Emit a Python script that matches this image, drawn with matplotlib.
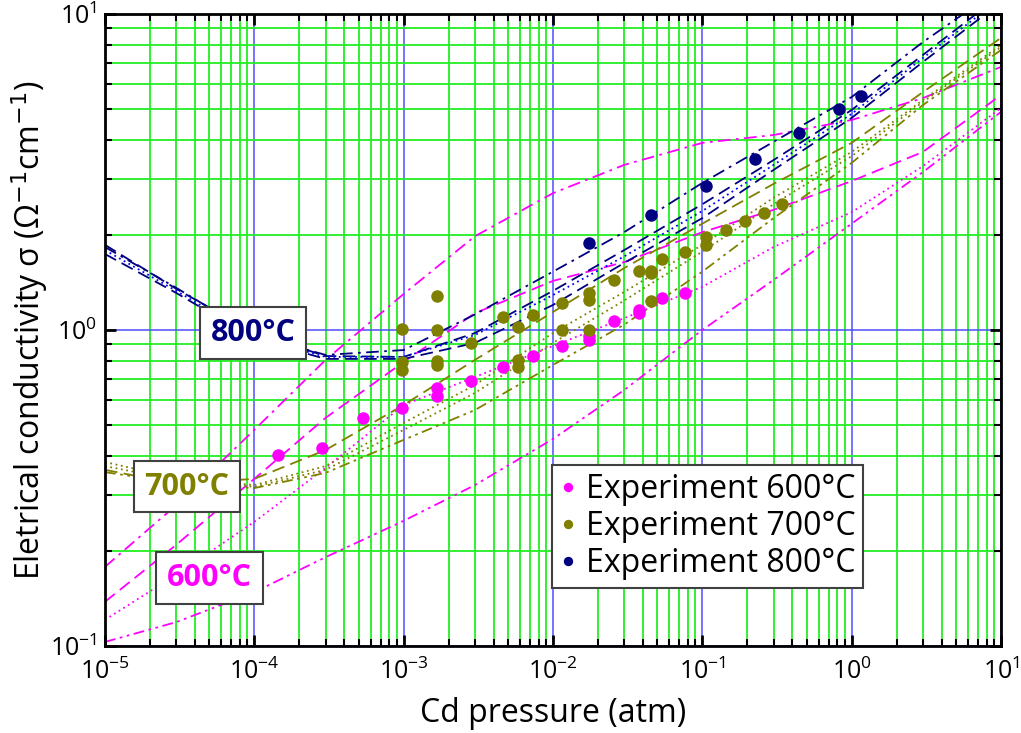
import numpy as np
import matplotlib
matplotlib.use("Agg")
import matplotlib.pyplot as plt
from matplotlib.ticker import LogLocator, NullFormatter

plt.rcParams['font.family'] = ['Open Sans', 'DejaVu Sans']

# model curves, read at half-decade points of Cd pressure (atm)
p_grid = [1e-5, 3e-5, 1e-4, 3e-4, 1e-3, 3e-3, 1e-2, 3e-2, 1e-1, 3e-1, 1, 3, 10]

# 600 C (magenta)
m600_a = [0.178, 0.279, 0.483, 0.804, 1.30, 1.98, 2.71, 3.33, 3.91, 4.14, 4.62, 5.42, 6.80]
m600_b = [0.138, 0.209, 0.338, 0.527, 0.792, 1.13, 1.43, 1.64, 2.04, 2.40, 2.96, 3.66, 5.54]
m600_c = [0.121, 0.168, 0.247, 0.366, 0.579, 0.710, 0.890, 1.09, 1.37, 1.83, 2.36, 3.30, 5.04]
m600_d = [0.103, 0.119, 0.148, 0.191, 0.249, 0.323, 0.452, 0.646, 1.00, 1.44, 2.17, 3.16, 4.90]

# 700 C (olive)
m700_a = [0.361, 0.326, 0.338, 0.417, 0.579, 0.804, 1.14, 1.57, 2.17, 2.90, 3.91, 5.66, 8.40]
m700_b = [0.382, 0.340, 0.323, 0.371, 0.508, 0.670, 0.978, 1.32, 1.86, 2.62, 3.66, 5.34, 7.98]
m700_c = [0.371, 0.335, 0.319, 0.361, 0.483, 0.632, 0.910, 1.24, 1.77, 2.50, 3.55, 5.27, 7.86]
m700_d = [0.355, 0.328, 0.316, 0.353, 0.449, 0.558, 0.775, 1.04, 1.53, 2.26, 3.38, 5.15, 7.69]

# 800 C (navy / blue)
m800_a = [1.83, 1.36, 0.964, 0.834, 0.864, 1.12, 1.53, 2.04, 2.92, 3.94, 5.46, 8.15, 12.1]
m800_b = [1.86, 1.35, 0.978, 0.827, 0.822, 0.978, 1.33, 1.79, 2.50, 3.45, 4.97, 7.42, 11.5]
m800_c = [1.79, 1.33, 0.951, 0.822, 0.822, 0.964, 1.29, 1.71, 2.38, 3.33, 4.83, 7.26, 11.2]
m800_d = [1.74, 1.31, 0.937, 0.810, 0.810, 0.910, 1.20, 1.63, 2.26, 3.21, 4.69, 7.05, 10.9]

# experiments
exp600_p = [1.44e-4, 2.84e-4, 5.35e-4, 9.7e-4, 1.68e-3, 1.68e-3, 2.83e-3, 4.63e-3, 7.36e-3,
            0.0115, 0.0175, 0.0175, 0.0256, 0.0378, 0.0378, 0.0538, 0.0768]
exp600_s = [0.402, 0.423, 0.527, 0.566, 0.655, 0.618, 0.690, 0.764, 0.828,
            0.890, 0.957, 0.930, 1.067, 1.157, 1.132, 1.262, 1.31]

exp700_p = [9.7e-4, 9.7e-4, 9.7e-4, 1.68e-3, 1.68e-3, 1.68e-3, 1.68e-3, 2.83e-3, 4.63e-3,
            5.83e-3, 5.83e-3, 5.83e-3, 7.36e-3, 0.0115, 0.0115, 0.0175, 0.0175, 0.0175,
            0.0256, 0.0378, 0.0454, 0.0454, 0.0454, 0.0538, 0.0768, 0.106, 0.106,
            0.144, 0.194, 0.259, 0.342]
exp700_s = [1.007, 0.792, 0.747, 1.281, 1.0, 0.798, 0.775, 0.91, 1.10,
            1.022, 0.804, 0.764, 1.116, 1.217, 1.0, 1.31, 1.245, 1.0,
            1.44, 1.537, 1.537, 1.514, 1.236, 1.678, 1.766, 1.97, 1.858,
            2.07, 2.21, 2.35, 2.5]

exp800_p = [0.0175, 0.0454, 0.106, 0.226, 0.445, 0.824, 1.16]
exp800_s = [1.885, 2.31, 2.86, 3.48, 4.2, 5.0, 5.5]

x_ticks = [1e-5, 1e-4, 1e-3, 1e-2, 1e-1, 1, 10]
y_ticks = [0.1, 1, 10]

mag = '#ff00ff'
oli = '#808000'
nav = '#000080'
blu = '#0000ff'

dash = (0, (7, 3.5))
dot = (0, (1, 2))
dashdot = (0, (7, 3, 1.5, 3))
dashdotdot = (0, (6, 2.5, 1.5, 2.5, 1.5, 2.5))

fig = plt.figure(figsize=(10.21, 7.33), dpi=100)
ax = fig.add_axes([0.1028, 0.1187, 0.8776, 0.8622])
ax.set_xscale('log')
ax.set_yscale('log')

lw = 1.3
ax.plot(p_grid, m600_a, color=mag, ls=dashdot, lw=lw)
ax.plot(p_grid, m600_b, color=mag, ls=dash, lw=lw)
ax.plot(p_grid, m600_c, color=mag, ls=dot, lw=lw)
ax.plot(p_grid, m600_d, color=mag, ls=dashdotdot, lw=lw)

ax.plot(p_grid, m700_a, color=oli, ls=dash, lw=lw)
ax.plot(p_grid, m700_b, color=oli, ls=dot, lw=lw)
ax.plot(p_grid, m700_c, color=oli, ls=dot, lw=lw)
ax.plot(p_grid, m700_d, color=oli, ls=dashdotdot, lw=lw)

ax.plot(p_grid, m800_a, color=nav, ls=dashdot, lw=lw)
ax.plot(p_grid, m800_b, color=nav, ls=dash, lw=lw)
ax.plot(p_grid, m800_c, color=blu, ls=dot, lw=lw)
ax.plot(p_grid, m800_d, color=nav, ls=dash, lw=lw)

ax.plot(exp600_p, exp600_s, 'o', color=mag, ms=9, mec='none', label='Experiment 600°C', zorder=5)
ax.plot(exp700_p, exp700_s, 'o', color=oli, ms=9, mec='none', label='Experiment 700°C', zorder=5)
ax.plot(exp800_p, exp800_s, 'o', color=nav, ms=9, mec='none', label='Experiment 800°C', zorder=5)

box = dict(boxstyle='square,pad=0.35', fc='white', ec='#404040', lw=1.5)
ax.text(9.8e-5, 0.978, '800°C', color=nav, fontsize=22, fontweight='bold',
        ha='center', va='center', bbox=box, zorder=6)
ax.text(3.54e-5, 0.319, '700°C', color=oli, fontsize=22, fontweight='bold',
        ha='center', va='center', bbox=box, zorder=6)
ax.text(5.0e-5, 0.164, '600°C', color=mag, fontsize=22, fontweight='bold',
        ha='center', va='center', bbox=box, zorder=6)

ax.set_xlim(1e-5, 10)
ax.set_ylim(0.1, 10)
ax.set_xticks(x_ticks)
ax.set_yticks(y_ticks)

for axis in (ax.xaxis, ax.yaxis):
    axis.set_minor_locator(LogLocator(base=10, subs=np.arange(2, 10), numticks=100))
    axis.set_minor_formatter(NullFormatter())

ax.grid(which='minor', color='#22ee22', lw=1.3)
ax.grid(which='major', color='#4d4dff', lw=1.1)
ax.set_axisbelow(True)

ax.tick_params(which='both', direction='in', top=True, right=True, labelsize=18)
ax.tick_params(axis='x', which='major', pad=9)
ax.tick_params(axis='y', which='major', pad=6)
ax.tick_params(which='major', length=8, width=2)
ax.tick_params(which='minor', length=5, width=1.5)
for s in ax.spines.values():
    s.set_linewidth(2)

ax.set_xlabel('Cd pressure (atm)', fontsize=23, labelpad=9)
ax.set_ylabel('Eletrical conductivity σ (Ω$^{-1}$cm$^{-1}$)', fontsize=23, labelpad=0)

leg = ax.legend(loc='upper left', bbox_to_anchor=(0.499, 0.286), fontsize=23,
                handlelength=0.5, handletextpad=0.3, borderpad=0.25, labelspacing=0.12,
                borderaxespad=0, fancybox=False, framealpha=1, edgecolor='#404040',
                markerscale=0.75)
leg.get_frame().set_linewidth(1.5)
leg.set_zorder(7)

fig.savefig('out.png', dpi=100)
